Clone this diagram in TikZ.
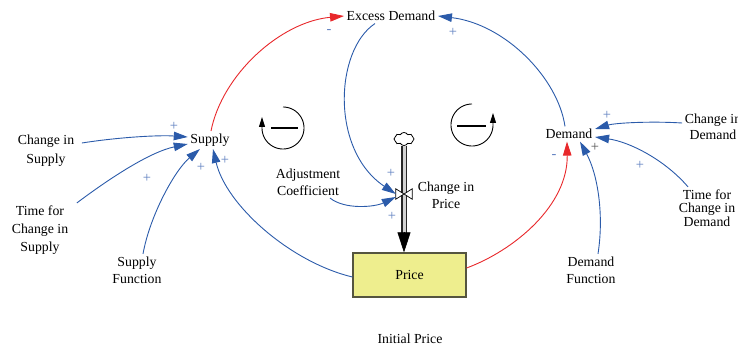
\documentclass[tikz,border=0pt]{standalone}
\usepackage{fontspec}
\setmainfont{Liberation Serif}
\usetikzlibrary{arrows.meta,shapes.symbols}

\definecolor{linkblue}{HTML}{2B5BAA}
\definecolor{linkred}{HTML}{E8282B}
\definecolor{polblue}{HTML}{5F80C0}
\definecolor{polgray}{HTML}{555555}
\definecolor{stockfill}{HTML}{EEEE8E}
\definecolor{stockedge}{HTML}{55553F}

\tikzset{
  var/.style={font=\fontsize{13.8}{17}\selectfont, align=center, inner sep=2.5pt},
  link/.style={linkblue, line width=0.9pt, -{Triangle[length=14pt,width=8.5pt]}},
  neglink/.style={linkred, line width=0.9pt, -{Triangle[length=14pt,width=8.5pt]}},
  pol/.style={polblue, font=\fontsize{14.5}{14.5}\selectfont, inner sep=0pt},
  loopmark/.style={black, line width=0.9pt},
  stock/.style={draw=stockedge, fill=stockfill, line width=1.2pt,
    minimum width=113pt, minimum height=44pt, inner sep=0pt,
    font=\fontsize{13.8}{17}\selectfont},
  pipe/.style={draw=black!85, line width=1.1pt, double=gray!35, double distance=3pt},
}

\begin{document}
\begin{tikzpicture}[x=1pt,y=-1pt]
\useasboundingbox (0,0) rectangle (738,347);
\clip (0,0) rectangle (738,347);

% variables
\node[var] (ed)  at (391,16)  {Excess Demand};
\node[var] (sup) at (210,140) {Supply};
\node[var] (dem) at (569,134) {Demand};
\node[var, font=\fontsize{13.8}{19}\selectfont] (cis) at (46,151) {Change in\\Supply};
\node[var, font=\fontsize{13.8}{18}\selectfont] (tcs) at (40,230) {Time for\\Change in\\Supply};
\node[var] (sf)  at (137,270) {Supply\\Function};
\node[var] (adj) at (308,182) {Adjustment\\Coefficient};
\node[var] (cip) at (446,195) {Change in\\Price};
\node[var] (df)  at (591,270) {Demand\\Function};
\node[var, font=\fontsize{13.8}{16}\selectfont] (cid) at (713,127) {Change in\\Demand};
\node[var, font=\fontsize{13.8}{13.5}\selectfont] (tcd) at (707,208) {Time for\\Change in\\Demand};
\node[var] (ip)  at (410,339) {Initial Price};

% stock and its inflow
\node[stock] (price) at (409.5,275) {Price};
\node[cloud, cloud puffs=8, cloud puff arc=120, aspect=1.6, draw, line width=0.8pt,
      minimum width=20pt, minimum height=13pt, inner sep=0pt] (cloud) at (404,139) {};
\node[minimum width=16pt, minimum height=10pt, inner sep=0pt] (valve) at (404,194) {};
\coordinate (pipeend) at (valve |- price.north);
\draw[pipe] (cloud.south) -- ([yshift=19pt]pipeend);
\draw[black, line width=0.6pt, -{Triangle[length=20pt,width=13pt]}] ([yshift=20pt]pipeend) -- (pipeend);
\draw[black, fill=white, line width=0.7pt] (valve.north west) -- (valve.south east)
  -- (valve.north east) -- (valve.south west) -- cycle;

% causal links
\draw[neglink] ([xshift=1pt]sup.north) .. controls (222,75) and (280,22) .. (ed.west);
\draw[link] ([xshift=-4pt]dem.north) .. controls (558,78) and (505,24) .. (ed.east);
\draw[link] ([xshift=-16pt]ed.south) .. controls (335,50) and (330,150) .. (valve.west);
\draw[link] ([xshift=22pt]adj.south) .. controls (345,210) and (375,207) .. ([yshift=-3pt]valve.west);
\draw[link] ([yshift=-2pt]price.west) .. controls (290,262) and (226,205) .. ([xshift=3pt]sup.south);
\draw[neglink] ([yshift=7pt]price.east) .. controls (515,250) and (568,205) .. ([xshift=-2pt]dem.south);
\draw[link] ([xshift=5pt,yshift=8pt]cis.east) .. controls (120,137) and (160,135) .. ([yshift=3pt]sup.west);
\draw[link] ([xshift=6pt]tcs.north east) .. controls (110,178) and (150,152) .. ([yshift=-4pt]sup.west);
\draw[link] ([xshift=6pt]sf.north) .. controls (150,215) and (175,170) .. ([xshift=-10pt]sup.south);
\draw[link] ([yshift=4pt]cid.west) .. controls (650,121) and (615,123) .. ([yshift=5pt]dem.east);
\draw[link] ([xshift=-19pt]tcd.north) .. controls (665,160) and (630,142) .. ([yshift=-3pt]dem.east);
\draw[link] ([xshift=7pt]df.north) .. controls (604,215) and (598,175) .. ([xshift=11pt]dem.south);

% link polarities
\node[pol] (p1)  at (329,32)  {-};
\node[pol] (p2)  at (453,32)  {+};
\node[pol] (p3)  at (391,173) {+};
\node[pol] (p4)  at (392,216) {+};
\node[pol] (p5)  at (225,160) {+};
\node[pol] (p6)  at (554,157) {-};
\node[pol] (p7)  at (174,126) {+};
\node[pol] (p8)  at (147,178) {+};
\node[pol] (p9)  at (201,167) {+};
\node[pol] (p10) at (607,115) {+};
\node[pol] (p11) at (640,165) {+};
\node[pol, polgray] (p12) at (595,147) {+};

% loop markers
\draw[loopmark, -{Triangle[length=10pt,width=6pt]}]
  plot[domain=-90:180, samples=60, smooth] ({283+21*cos(\x)},{128+21*sin(\x)}) -- ++(0,-11);
\draw[black, line width=1.8pt] (271,128) -- (298,128);
\draw[loopmark, -{Triangle[length=10pt,width=6pt]}]
  plot[domain=-90:-360, samples=60, smooth] ({472+21*cos(\x)},{125+21*sin(\x)}) -- ++(0,-12);
\draw[black, line width=1.8pt] (457,126) -- (486,126);
\end{tikzpicture}
\end{document}
